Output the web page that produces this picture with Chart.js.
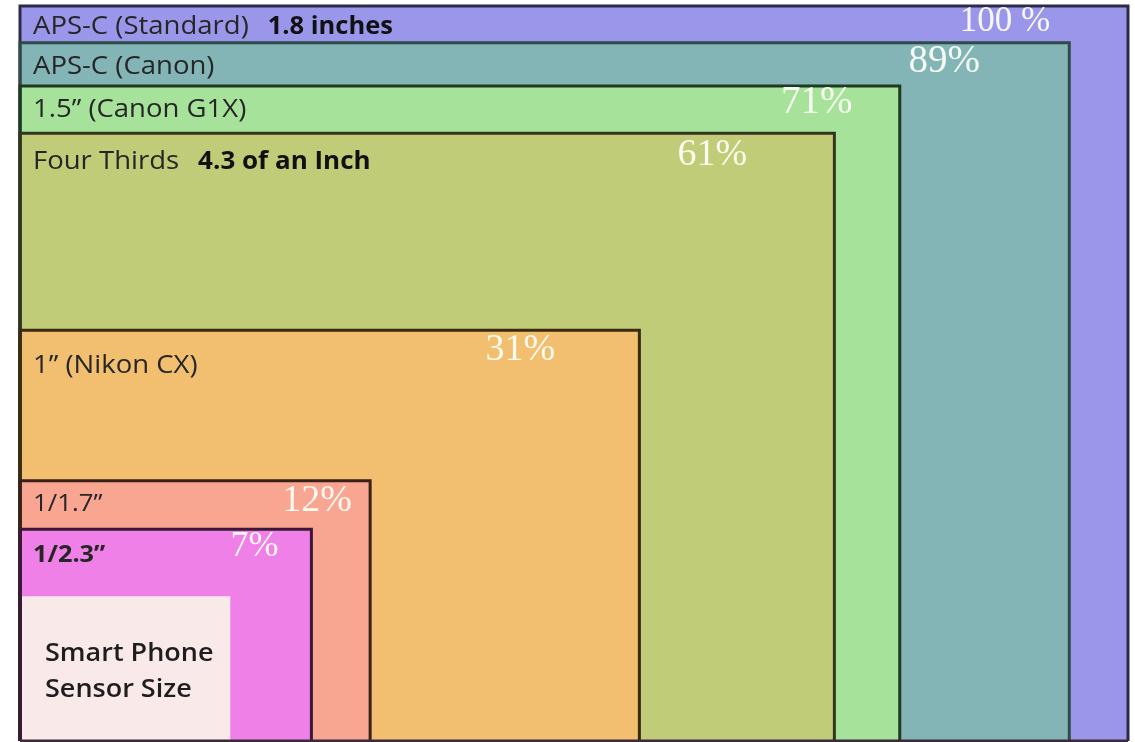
<!DOCTYPE html>
<html>
<head>
<meta charset="utf-8">
<script src="https://cdn.jsdelivr.net/npm/chart.js@4"></script>
<style>
  html, body { margin: 0; padding: 0; background: #ffffff; }
  #wrap { width: 1135px; height: 742px; position: relative; }
</style>
</head>
<body>
<div id="wrap"><canvas id="c" width="1135" height="742"></canvas></div>
<script>
// ---- data (sizes relative to the APS-C standard sensor = 100) ----
const sensorNames = ['APS-C (Standard)', 'APS-C (Canon)', '1.5\u201D (Canon G1X)', 'Four Thirds', '1\u201D (Nikon CX)', '1/1.7\u201D', '1/2.3\u201D', 'Smart Phone Sensor Size'];
const sizeNotes   = ['1.8 inches', '', '', '4.3 of an Inch', '', '', '', ''];
const relWidth    = [100, 94.7, 79.4, 73.5, 55.9, 31.6, 26.3, 19.0];
const relHeight   = [100, 95.0, 89.1, 82.7, 55.9, 35.4, 28.8, 19.7];
const areaPct     = [100, 89, 71, 61, 31, 12, 7, null];
const pctText     = ['100 %', '89%', '71%', '61%', '31%', '12%', '7%', ''];

// ---- styles ----
const fillColors   = ['#9a97ea', '#84b5b6', '#a7e29a', '#c1cc79', '#f2be6f', '#f8a592', '#ee80e8', '#f9e9e9'];
const borderColors = ['#2b2b48', '#2f4a47', '#1f3a22', '#33361f', '#3b2a12', '#3a201b', '#3a1838', 'rgba(0,0,0,0)'];
const borderWidths = [3, 3, 3, 3, 3, 3, 3, 0];
// label layout: px offsets from each rectangle's top-left (names) / top-right (percent)
const nameLayout = [
  {dx: 13, dy: 21, size: 25, bold: false, sx: 1.1},
  {dx: 13, dy: 24, size: 25, bold: false, sx: 1.1},
  {dx: 13, dy: 24, size: 25, bold: false, sx: 1.1},
  {dx: 13, dy: 29, size: 25, bold: false, sx: 1.1},
  {dx: 13, dy: 36, size: 25, bold: false, sx: 1.1},
  {dx: 13, dy: 24, size: 23, bold: false, sx: 1.12},
  {dx: 13, dy: 26, size: 23, bold: true,  sx: 1.1}
];
const noteStretch = [1.02, 1, 1, 1.04];
const pctLayout = [
  {dx: 123, dy: 16, size: 35},
  {dx: 125, dy: 19, size: 39},
  {dx: 83,  dy: 17, size: 39},
  {dx: 122, dy: 22, size: 38},
  {dx: 119, dy: 20, size: 38},
  {dx: 53,  dy: 20, size: 38},
  {dx: 57,  dy: 17, size: 36}
];

const SANS = '"Open Sans", "Noto Sans", sans-serif';
const SERIF = '"Liberation Serif", "DejaVu Serif", serif';

const datasets = sensorNames.map((name, i) => ({
  label: name,
  data: [
    {x: 0, y: 0},
    {x: 0, y: relHeight[i]},
    {x: relWidth[i], y: relHeight[i]},
    {x: relWidth[i], y: 0}
  ],
  showLine: true,
  fill: 'origin',
  backgroundColor: fillColors[i],
  borderColor: borderColors[i],
  borderWidth: borderWidths[i],
  borderJoinStyle: 'miter',
  pointRadius: 0,
  tension: 0,
  clip: false,
  order: 100 - i
}));
// bottom outline
datasets.push({
  label: 'base',
  data: [{x: 0, y: 0}, {x: relWidth[0], y: 0}],
  showLine: true, fill: false, borderColor: '#3a2a3a', borderWidth: 3,
  pointRadius: 0, clip: false, order: 0
});

function stretchedText(ctx, text, x, y, sx) {
  ctx.save();
  ctx.translate(x, y);
  ctx.scale(sx, 1);
  ctx.fillText(text, 0, 0);
  const w = ctx.measureText(text).width * sx;
  ctx.restore();
  return w;
}

const labelPlugin = {
  id: 'sensorLabels',
  afterDatasetsDraw(chart) {
    const ctx = chart.ctx;
    const xs = chart.scales.x, ys = chart.scales.y;
    ctx.save();
    ctx.textBaseline = 'middle';
    for (let i = 0; i < 7; i++) {
      const left = xs.getPixelForValue(0);
      const right = xs.getPixelForValue(relWidth[i]);
      const top = ys.getPixelForValue(relHeight[i]);
      const L = nameLayout[i];
      ctx.textAlign = 'left';
      ctx.fillStyle = '#262626';
      ctx.font = (L.bold ? 'bold ' : '') + L.size + 'px ' + SANS;
      const x0 = left + L.dx, y0 = top + L.dy;
      const w = stretchedText(ctx, sensorNames[i], x0, y0, L.sx);
      if (sizeNotes[i]) {
        ctx.font = 'bold ' + L.size + 'px ' + SANS;
        ctx.fillStyle = '#111111';
        stretchedText(ctx, sizeNotes[i], x0 + w + 19, y0, noteStretch[i]);
      }
      const P = pctLayout[i];
      ctx.textAlign = 'center';
      ctx.fillStyle = 'rgba(255,255,248,0.92)';
      ctx.font = P.size + 'px ' + SERIF;
      ctx.fillText(pctText[i], right - P.dx, top + P.dy);
    }
    // smart phone box text
    const pl = xs.getPixelForValue(0);
    const pt = ys.getPixelForValue(relHeight[7]);
    ctx.textAlign = 'left';
    ctx.fillStyle = '#1e1e1e';
    ctx.font = '600 25px ' + SANS;
    stretchedText(ctx, 'Smart Phone', pl + 25, pt + 58, 1.08);
    stretchedText(ctx, 'Sensor Size', pl + 25, pt + 94, 1.08);
    ctx.restore();
  }
};

new Chart(document.getElementById('c'), {
  type: 'scatter',
  data: { datasets },
  options: {
    responsive: false,
    animation: false,
    devicePixelRatio: 1,
    layout: { padding: { left: 20, right: 7, top: 6, bottom: 1 } },
    scales: {
      x: { type: 'linear', min: 0, max: 100, display: false },
      y: { type: 'linear', min: 0, max: 100, display: false }
    },
    plugins: {
      legend: { display: false },
      tooltip: { enabled: false },
      filler: { drawTime: 'beforeDatasetsDraw' }
    }
  },
  plugins: [labelPlugin]
});
</script>
</body>
</html>
